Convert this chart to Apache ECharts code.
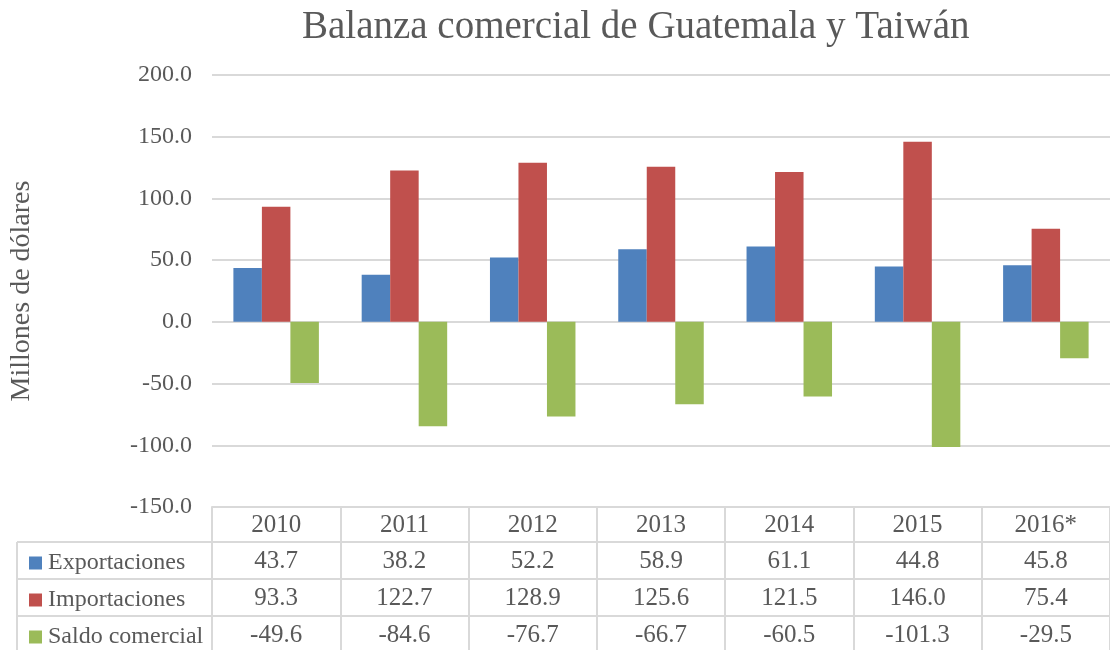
<!DOCTYPE html>
<html>
<head>
<meta charset="utf-8">
<script src="https://cdn.jsdelivr.net/npm/echarts@6/dist/echarts.min.js"></script>
<style>
  html, body { margin: 0; padding: 0; background: #fff; }
  #chart { width: 1110px; height: 650px; }
</style>
</head>
<body>
<div id="chart"></div>
<script>
const years = ['2010', '2011', '2012', '2013', '2014', '2015', '2016*']
const exportaciones = [43.7, 38.2, 52.2, 58.9, 61.1, 44.8, 45.8]
const importaciones = [93.3, 122.7, 128.9, 125.6, 121.5, 146.0, 75.4]
const saldo = [-49.6, -84.6, -76.7, -66.7, -60.5, -101.3, -29.5]
const seriesNames = ['Exportaciones', 'Importaciones', 'Saldo comercial']
const colors = ['#4F81BD', '#C0504D', '#9BBB59']

const FONT = '"Liberation Serif", serif'
const TEXT = '#595959'
const LINE = '#d9d9d9'
const HEAD_H = 35
const ROW_H = 37

const chart = echarts.init(document.getElementById('chart'))

const seriesData = [exportaciones, importaciones, saldo]
const gridBottom = 507
const rowTop = r => gridBottom + HEAD_H + r * ROW_H

chart.setOption({
  animation: false,
  color: colors,
  textStyle: { fontFamily: FONT },
  title: {
    text: 'Balanza comercial de Guatemala y Taiwán',
    left: 297,
    top: 3,
    textStyle: { fontFamily: FONT, fontSize: 39, fontWeight: 'normal', color: TEXT }
  },
  grid: { left: 211, right: -4, top: 75, bottom: 650 - gridBottom },
  // one legend per table row
  legend: seriesNames.map((n, r) => ({
    left: 24,
    top: rowTop(r) + 4,
    itemWidth: 13,
    itemHeight: 13,
    icon: 'rect',
    selectedMode: false,
    textStyle: { fontFamily: FONT, fontSize: 24, color: TEXT, padding: [0, 0, 0, 1] },
    data: [n]
  })),
  xAxis: {
    type: 'category',
    data: years,
    axisLine: { onZero: false, lineStyle: { color: LINE, width: 2 } },
    axisTick: { show: true, length: 650 - gridBottom, lineStyle: { color: LINE, width: 2 } },
    axisLabel: { fontFamily: FONT, fontSize: 25, color: TEXT, margin: 6 }
  },
  yAxis: {
    type: 'value',
    min: -150,
    max: 200,
    interval: 50,
    name: 'Millones de dólares',
    nameLocation: 'middle',
    nameRotate: 90,
    nameGap: 176,
    nameTextStyle: { fontFamily: FONT, fontSize: 28, color: TEXT },
    axisLine: { show: false },
    axisTick: { show: false },
    axisLabel: {
      fontFamily: FONT, fontSize: 24, color: TEXT, margin: 20,
      formatter: v => v.toFixed(1)
    },
    splitLine: { lineStyle: { color: LINE, width: 2 } }
  },
  series: seriesData.map((d, i) => ({
    name: seriesNames[i],
    type: 'bar',
    data: d,
    barWidth: 28.5,
    barGap: '0%'
  }))
})

// data table under the plot
const tableLeft = 17
const tableRight = 1110
const g = []
for (let r = 0; r <= 3; r++) {
  const y = rowTop(r)
  g.push({ type: 'line', shape: { x1: tableLeft, y1: y, x2: tableRight, y2: y }, style: { stroke: LINE, lineWidth: 2 } })
}
g.push({ type: 'line', shape: { x1: tableLeft, y1: rowTop(0), x2: tableLeft, y2: 650 }, style: { stroke: LINE, lineWidth: 2 } })
seriesData.forEach((d, r) => {
  d.forEach((v, i) => {
    const x = chart.convertToPixel({ xAxisIndex: 0 }, i)
    g.push({
      type: 'text',
      x: x,
      y: rowTop(r) + ROW_H / 2 + 1,
      style: {
        text: v.toFixed(1), font: '25px ' + FONT, fill: TEXT,
        align: 'center', verticalAlign: 'middle'
      }
    })
  })
})
chart.setOption({ graphic: g })
</script>
</body>
</html>
